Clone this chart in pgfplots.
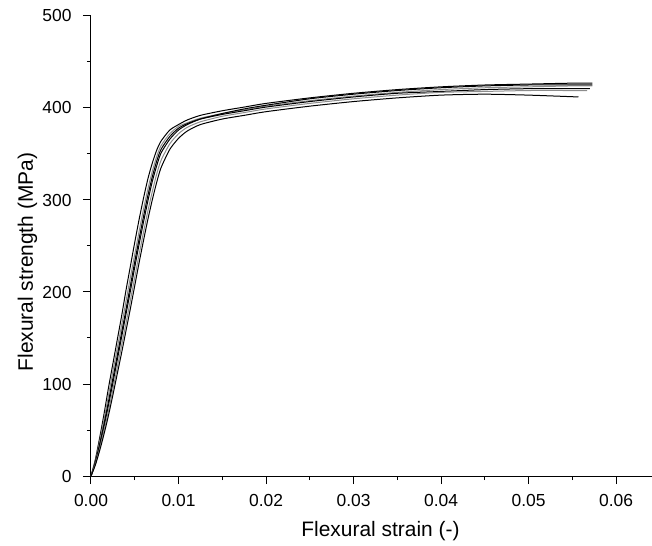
\documentclass[border=0pt]{standalone}
\usepackage{pgfplots}
\pgfplotsset{compat=1.18}
\usepackage{fontspec}
\setmainfont{Liberation Sans}
\begin{document}
\begin{tikzpicture}
\begin{axis}[
  name=ax,
  scale only axis,
  width=561bp, height=460bp,
  xmin=0, xmax=0.0641, ymin=0, ymax=500,
  axis x line*=bottom, axis y line*=left,
  axis line style={-, line width=1bp, black},
  tick align=outside,
  major tick length=8bp, minor tick length=4bp,
  tick style={black, line width=1bp},
  xtick={0,0.01,0.02,0.03,0.04,0.05,0.06},
  xticklabels={0.00,0.01,0.02,0.03,0.04,0.05,0.06},
  minor x tick num=1,
  ytick={0,100,200,300,400,500},
  minor y tick num=1,
  scaled x ticks=false,
  /pgf/number format/assume math mode=true,
  tick label style={font=\fontsize{17.5}{20}\selectfont},
  xticklabel style={yshift=-7bp},
  yticklabel style={xshift=-8bp},
  label style={font=\fontsize{21}{24}\selectfont},
  xlabel={Flexural strain (-)},
  ylabel={Flexural strength (MPa)},
  xlabel style={at={(axis description cs:0.516,0)}, anchor=base, yshift=-60bp},
  ylabel style={at={(axis description cs:0,0.465)}, anchor=base, yshift=58bp},
  every axis plot/.append style={line width=1bp, smooth, tension=0.4, no markers},
]
% curve 1
\addplot[black] coordinates {(0,0) (0.0005,18) (0.001,42) (0.0015,68) (0.002,96) (0.0025,122) (0.003,148) (0.0035,174) (0.004,202) (0.0045,228) (0.005,254) (0.0055,279) (0.006,302) (0.0065,323) (0.007,340) (0.0075,354) (0.008,364) (0.009,376) (0.010,382) (0.011,387) (0.0125,392) (0.015,397) (0.0175,401) (0.02,405) (0.025,411) (0.03,416) (0.035,420) (0.04,423) (0.045,425) (0.05,426) (0.055,427) (0.0573,427)};
% curve 2
\addplot[black!45] coordinates {(0,0) (0.0005,16) (0.001,38) (0.0015,62) (0.002,88) (0.0025,114) (0.003,139) (0.0035,164) (0.004,190) (0.0045,216) (0.005,241) (0.0055,266) (0.006,290) (0.0065,312) (0.007,331) (0.0075,347) (0.008,359) (0.009,372) (0.010,380) (0.011,384) (0.0125,389) (0.015,394) (0.0175,398) (0.02,402) (0.025,408) (0.03,413) (0.035,417) (0.04,420) (0.045,422) (0.05,423) (0.055,424) (0.0573,424)};
% curve 3
\addplot[black] coordinates {(0,0) (0.0005,15) (0.001,35) (0.0015,57) (0.002,81) (0.0025,106) (0.003,131) (0.0035,156) (0.004,181) (0.0045,207) (0.005,233) (0.0055,258) (0.006,282) (0.0065,305) (0.007,325) (0.0075,342) (0.008,355) (0.009,369) (0.010,378) (0.011,383) (0.0125,388) (0.015,393) (0.0175,397) (0.02,401) (0.025,407) (0.03,412) (0.035,416) (0.04,418) (0.045,420) (0.05,421) (0.055,421) (0.057,421)};
% curve 4
\addplot[black] coordinates {(0,0) (0.0005,14) (0.001,33) (0.0015,54) (0.002,77) (0.0025,101) (0.003,126) (0.0035,151) (0.004,176) (0.0045,201) (0.005,227) (0.0055,252) (0.006,276) (0.0065,299) (0.007,320) (0.0075,337) (0.008,351) (0.009,366) (0.010,376) (0.011,382) (0.0125,388) (0.015,394) (0.0175,399) (0.02,403) (0.025,410) (0.03,415) (0.035,419) (0.04,422) (0.045,424) (0.05,425) (0.055,425) (0.0573,425)};
% curve 5
\addplot[black!45] coordinates {(0,0) (0.0005,13) (0.001,30) (0.0015,50) (0.002,71) (0.0025,94) (0.003,118) (0.0035,142) (0.004,166) (0.0045,191) (0.005,216) (0.0055,241) (0.006,265) (0.0065,288) (0.007,309) (0.0075,328) (0.008,343) (0.009,361) (0.010,372) (0.011,379) (0.0125,385) (0.015,391) (0.0175,395) (0.02,399) (0.025,405) (0.03,410) (0.035,414) (0.04,417) (0.045,418) (0.05,419) (0.055,419) (0.0567,419)};
% curve 6
\addplot[black] coordinates {(0,0) (0.0005,12) (0.001,28) (0.0015,46) (0.002,66) (0.0025,88) (0.003,111) (0.0035,134) (0.004,158) (0.0045,182) (0.005,207) (0.0055,232) (0.006,256) (0.0065,279) (0.007,300) (0.0075,319) (0.008,335) (0.009,355) (0.010,367) (0.011,375) (0.0125,382) (0.015,388) (0.0175,392) (0.02,396) (0.025,402) (0.03,407) (0.035,411) (0.04,414) (0.045,415) (0.05,414) (0.0557,412)};
\end{axis}
\pgfresetboundingbox
\path[use as bounding box] ([shift={(-91bp,-70bp)}]ax.south west) rectangle ([shift={(0bp,16bp)}]ax.north east);
\end{tikzpicture}
\end{document}
